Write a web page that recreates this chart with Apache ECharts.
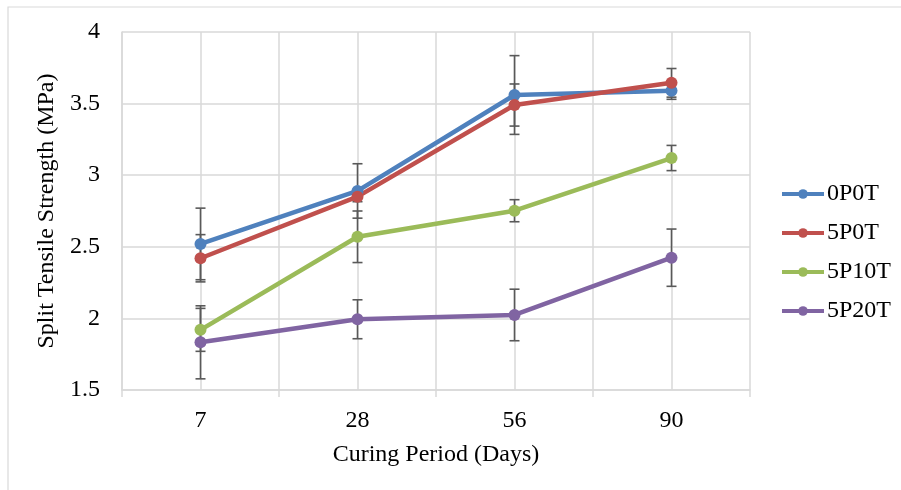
<!DOCTYPE html>
<html>
<head>
<meta charset="utf-8">
<script src="https://cdn.jsdelivr.net/npm/echarts@6/dist/echarts.min.js"></script>
<style>html,body{margin:0;padding:0;background:#fff}#c{width:901px;height:490px}</style>
</head>
<body>
<div id="c"></div>
<script>
var categories = ['7', '28', '56', '90'];
var seriesNames = ['0P0T', '5P0T', '5P10T', '5P20T'];
var val0P0T = [2.52, 2.89, 3.56, 3.59];
var err0P0T = [0.25, 0.19, 0.275, 0.06];
var val5P0T = [2.42, 2.85, 3.49, 3.645];
var err5P0T = [0.165, 0.035, 0.147, 0.10];
var val5P10T = [1.92, 2.57, 2.752, 3.12];
var err5P10T = [0.15, 0.18, 0.077, 0.088];
var val5P20T = [1.833, 1.994, 2.024, 2.424];
var err5P20T = [0.255, 0.136, 0.18, 0.2];
var yTicks = [1.5, 2, 2.5, 3, 3.5, 4];

var colors = ['#4F81BD', '#C0504D', '#9BBB59', '#8064A2'];
var values = [val0P0T, val5P0T, val5P10T, val5P20T];
var errors = [err0P0T, err5P0T, err5P10T, err5P20T];
var FONT = '"Liberation Serif", "Times New Roman", serif';
var FS = 24;

var chart = echarts.init(document.getElementById('c'), null, {renderer: 'canvas'});

var series = [];
values.forEach(function (vals, i) {
  series.push({
    name: seriesNames[i],
    type: 'line',
    data: vals,
    xAxisIndex: 0,
    symbol: 'circle',
    symbolSize: 12,
    lineStyle: {width: 4.5, color: colors[i]},
    itemStyle: {color: colors[i]},
    z: 3,
    animation: false
  });
});
errors.forEach(function (errs, i) {
  series.push({
    type: 'custom',
    xAxisIndex: 0,
    z: 2,
    silent: true,
    animation: false,
    data: errs.map(function (e, k) { return [k, values[i][k], e]; }),
    renderItem: function (params, api) {
      var x = api.value(0), v = api.value(1), e = api.value(2);
      var top = api.coord([x, v + e]);
      var bot = api.coord([x, v - e]);
      var hw = 5;
      var st = {stroke: '#595959', lineWidth: 1.6};
      return {
        type: 'group',
        children: [
          {type: 'line', shape: {x1: top[0], y1: top[1], x2: bot[0], y2: bot[1]}, style: st},
          {type: 'line', shape: {x1: top[0] - hw, y1: top[1], x2: top[0] + hw, y2: top[1]}, style: st},
          {type: 'line', shape: {x1: bot[0] - hw, y1: bot[1], x2: bot[0] + hw, y2: bot[1]}, style: st}
        ]
      };
    }
  });
});

chart.setOption({
  animation: false,
  backgroundColor: '#fff',
  graphic: [{
    type: 'rect',
    shape: {x: 8, y: 7, width: 910, height: 500},
    style: {fill: 'none', stroke: '#d9d9d9', lineWidth: 1.2},
    z: -1
  }],
  grid: {left: 122, right: 151, top: 32, bottom: 100, containLabel: false},
  legend: {
    orient: 'vertical',
    left: 780,
    top: 182,
    padding: 0,
    itemWidth: 42,
    itemHeight: 12,
    itemGap: 15,
    data: seriesNames,
    lineStyle: {width: 4},
    textStyle: {fontFamily: FONT, fontSize: FS, color: '#000', padding: [0, 0, 0, -2]}
  },
  xAxis: [{
    type: 'category',
    data: categories,
    boundaryGap: true,
    name: 'Curing Period (Days)',
    nameLocation: 'middle',
    nameGap: 53,
    nameTextStyle: {fontFamily: FONT, fontSize: FS, color: '#000'},
    axisLine: {show: true, lineStyle: {color: '#d9d9d9', width: 1.5}},
    axisTick: {show: true, length: 7, lineStyle: {color: '#d9d9d9', width: 1.5}},
    axisLabel: {fontFamily: FONT, fontSize: FS, color: '#000', margin: 19},
    splitLine: {show: false}
  }, {
    type: 'value',
    min: 0,
    max: 4,
    interval: 0.5,
    position: 'bottom',
    axisLine: {show: false},
    axisTick: {show: false},
    axisLabel: {show: false},
    splitLine: {show: true, lineStyle: {color: '#d9d9d9', width: 1.5}}
  }],
  yAxis: {
    type: 'value',
    min: yTicks[0],
    max: yTicks[yTicks.length - 1],
    interval: 0.5,
    name: 'Split Tensile Strength (MPa)',
    nameLocation: 'middle',
    nameGap: 52,
    nameTextStyle: {fontFamily: FONT, fontSize: FS, color: '#000'},
    axisLine: {show: true, lineStyle: {color: '#d9d9d9', width: 1.5}},
    axisTick: {show: false},
    axisLabel: {fontFamily: FONT, fontSize: FS, color: '#000', margin: 22,
      formatter: function (v) { return String(v); }},
    splitLine: {show: true, lineStyle: {color: '#d9d9d9', width: 1.5}}
  },
  series: series
});
</script>
</body>
</html>
